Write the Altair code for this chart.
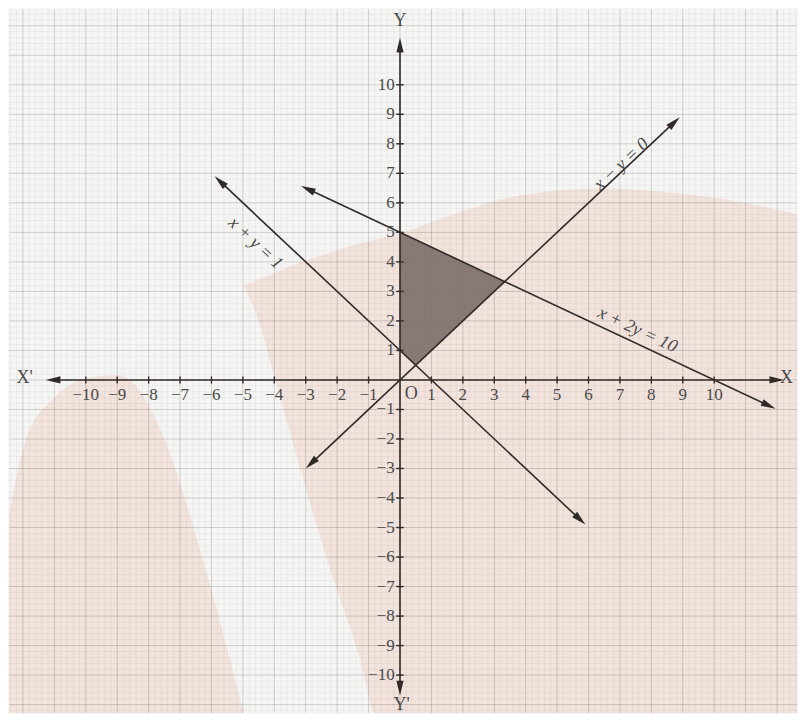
import altair as alt
import pandas as pd
import numpy as np

# ---------------- data ----------------
x_ticks = [-10, -9, -8, -7, -6, -5, -4, -3, -2, -1, 1, 2, 3, 4, 5, 6, 7, 8, 9, 10]
y_ticks = [-10, -9, -8, -7, -6, -5, -4, -3, -2, -1, 1, 2, 3, 4, 5, 6, 7, 8, 9, 10]

line_names = ["x + y = 1", "x − y = 0", "x + 2y = 10"]
line_x_start = [-5.7, -2.8, -2.9]
line_y_start = [6.7, -2.8, 6.45]
line_x_end = [5.7, 8.7, 11.7]
line_y_end = [-4.7, 8.7, -0.85]

label_x = [-4.6, 7.05, 7.56]
label_y = [4.63, 7.30, 1.69]
label_angle = [43, 317, 25]

# feasible region (x >= 0, x + y >= 1, y >= x, x + 2y <= 10)
region_x = [0.0, 0.5, 10 / 3]
region_top = [5.0, 4.75, 10 / 3]
region_bottom = [1.0, 0.5, 10 / 3]

# faint pink watermark of the scanned page (data units)
pinkA_x = [-4.98, -4.51, -3.97, -3.17, -2.22, -1.27, -0.70, 0.0, 1.90, 3.81, 6.35, 9.52, 12.9]
pinkA_top = [3.21, 3.41, 3.64, 3.99, 4.31, 4.63, 4.77, 4.97, 5.68, 6.25, 6.49, 6.25, 5.57]
pinkA_bot = [3.21, 2.03, 0.0, -3.04, -6.42, -9.46, -11.6, -11.6, -11.6, -11.6, -11.6, -11.6, -11.6]
pinkB_x = [-12.5, -11.9, -11.0, -10.0, -9.0, -8.6, -7.5, -6.3, -4.9]
pinkB_top = [-4.9, -2.0, -0.6, 0.05, 0.17, 0.0, -2.0, -6.0, -11.6]
pinkB_bot = [-11.6, -11.6, -11.6, -11.6, -11.6, -11.6, -11.6, -11.6, -11.6]

# axis extents
x_axis_from, x_axis_to = -11.0, 11.95
y_axis_from, y_axis_to = -10.4, 11.3

# ---------------- layout ----------------
W, H = 790, 706
XMIN, XMAX = -12.444, 12.635
YMIN, YMAX = -11.284, 12.568
PX = W / (XMAX - XMIN)
PY = H / (YMAX - YMIN)

xs = alt.Scale(domain=[XMIN, XMAX], nice=False, zero=False)
ys = alt.Scale(domain=[YMIN, YMAX], nice=False, zero=False)

SERIF = "Liberation Serif"
INK = "#302a28"
TXT = "#4a4a4a"
ARROW = "M0,-1L0.42,0.7L-0.42,0.7Z"
BG = "#f5f5f4"


def X(f="x"):
    return alt.X(f"{f}:Q", scale=xs, axis=None)


def Y(f="y"):
    return alt.Y(f"{f}:Q", scale=ys, axis=None)


def ang(x0, y0, x1, y1):
    dxp = (x1 - x0) * PX
    dyp = -(y1 - y0) * PY
    return float(np.degrees(np.arctan2(dxp, -dyp)) % 360)


# pink watermark
pinkA = pd.DataFrame({"x": pinkA_x, "y": pinkA_top, "y2": pinkA_bot})
pinkB = pd.DataFrame({"x": pinkB_x, "y": pinkB_top, "y2": pinkB_bot})
pink_layers = [
    alt.Chart(d).mark_area(color="#f2e3dd", clip=True, interpolate="monotone").encode(
        x=X(), y=Y(), y2="y2:Q")
    for d in (pinkA, pinkB)
]

# grid
minor_x = pd.DataFrame({"x": np.round(np.arange(-12.4, 12.7, 0.2), 2)})
minor_y = pd.DataFrame({"y": np.round(np.arange(-11.2, 12.6, 0.2), 2)})
major_x = pd.DataFrame({"x": np.arange(-12, 13, 1.0)})
major_y = pd.DataFrame({"y": np.arange(-11, 13, 1.0)})
grid = [
    alt.Chart(minor_x).mark_rule(color="#000", opacity=0.045, strokeWidth=1).encode(x=X()),
    alt.Chart(minor_y).mark_rule(color="#000", opacity=0.045, strokeWidth=1).encode(y=Y()),
    alt.Chart(major_x).mark_rule(color="#000", opacity=0.12, strokeWidth=1).encode(x=X()),
    alt.Chart(major_y).mark_rule(color="#000", opacity=0.12, strokeWidth=1).encode(y=Y()),
]

# shaded region
region = alt.Chart(pd.DataFrame({"x": region_x, "y": region_top, "y2": region_bottom})).mark_area(
    color="#7f706c", opacity=0.92).encode(x=X(), y=Y(), y2="y2:Q")

# axes
axes_df = pd.DataFrame({
    "x": [x_axis_from, 0.0], "x2": [x_axis_to, 0.0],
    "y": [0.0, y_axis_from], "y2": [0.0, y_axis_to],
})
axes = alt.Chart(axes_df).mark_rule(color=INK, strokeWidth=1.6).encode(
    x=X(), x2="x2:Q", y=Y(), y2="y2:Q")

xt = pd.DataFrame({"x": x_ticks, "y": [-0.12] * len(x_ticks), "y2": [0.12] * len(x_ticks)})
yt = pd.DataFrame({"y": y_ticks, "x": [-0.12] * len(y_ticks), "x2": [0.12] * len(y_ticks)})
ticks = [
    alt.Chart(xt).mark_rule(color=INK, strokeWidth=1.4).encode(x=X(), y=Y(), y2="y2:Q"),
    alt.Chart(yt).mark_rule(color=INK, strokeWidth=1.4).encode(y=Y(), x=X(), x2="x2:Q"),
]


def fmt(v):
    return str(v) if v > 0 else "−" + str(-v)


xl = pd.DataFrame({"x": x_ticks, "y": [-0.5] * len(x_ticks), "t": [fmt(v) for v in x_ticks]})
yl = pd.DataFrame({"y": y_ticks, "x": [-0.17] * len(y_ticks), "t": [fmt(v) for v in y_ticks]})
tick_labels = [
    alt.Chart(xl).mark_text(font=SERIF, fontSize=17, color=TXT, baseline="middle", align="center").encode(
        x=X(), y=Y(), text="t:N"),
    alt.Chart(yl).mark_text(font=SERIF, fontSize=17, color=TXT, baseline="middle", align="right").encode(
        x=X(), y=Y(), text="t:N"),
]

# axis names
names_df = pd.DataFrame({
    "t": ["X'", "X", "Y", "Y'", "O"],
    "x": [-11.95, 12.3, 0.0, 0.05, 0.36],
    "y": [0.07, 0.07, 12.15, -11.0, -0.47],
})
names = alt.Chart(names_df).mark_text(font=SERIF, fontSize=18, color=TXT, baseline="middle",
                                      align="center").encode(x=X(), y=Y(), text="t:N")

# axis arrows
ax_arrows = pd.DataFrame({
    "x": [x_axis_from, x_axis_to, 0.0, 0.0],
    "y": [0.0, 0.0, y_axis_to, y_axis_from],
    "a": [270.0, 90.0, 0.0, 180.0],
})
axis_arrows = alt.Chart(ax_arrows).mark_point(shape=ARROW, filled=True, color=INK, opacity=1,
                                              size=300).encode(
    x=X(), y=Y(), angle=alt.Angle("a:Q", scale=None))

# lines
seg = pd.DataFrame({"name": line_names, "x": line_x_start, "y": line_y_start,
                    "x2": line_x_end, "y2": line_y_end})
lines = alt.Chart(seg).mark_rule(color=INK, strokeWidth=1.6).encode(
    x=X(), y=Y(), x2="x2:Q", y2="y2:Q")

arr_rows = []
for x0, y0, x1, y1 in zip(line_x_start, line_y_start, line_x_end, line_y_end):
    arr_rows.append({"x": x0, "y": y0, "a": ang(x1, y1, x0, y0)})
    arr_rows.append({"x": x1, "y": y1, "a": ang(x0, y0, x1, y1)})
line_arrows = alt.Chart(pd.DataFrame(arr_rows)).mark_point(shape=ARROW, filled=True, color=INK,
                                                           opacity=1, size=300).encode(
    x=X(), y=Y(), angle=alt.Angle("a:Q", scale=None))

lab = pd.DataFrame({"t": line_names, "x": label_x, "y": label_y, "a": label_angle})
line_labels = alt.Chart(lab).mark_text(font=SERIF, fontSize=18, fontStyle="italic", color=TXT,
                                       baseline="middle", align="center").encode(
    x=X(), y=Y(), text="t:N", angle=alt.Angle("a:Q", scale=None))

chart = alt.layer(
    *pink_layers, *grid, region, axes, *ticks, lines, line_arrows, axis_arrows,
    *tick_labels, names, line_labels,
).properties(
    width=W, height=H,
    autosize=alt.AutoSizeParams(type="fit", contains="padding"),
    background=BG, padding=0,
).configure_view(stroke=None, fill=BG)

chart.save("out.html", embed_options={"renderer": "svg", "actions": False})
